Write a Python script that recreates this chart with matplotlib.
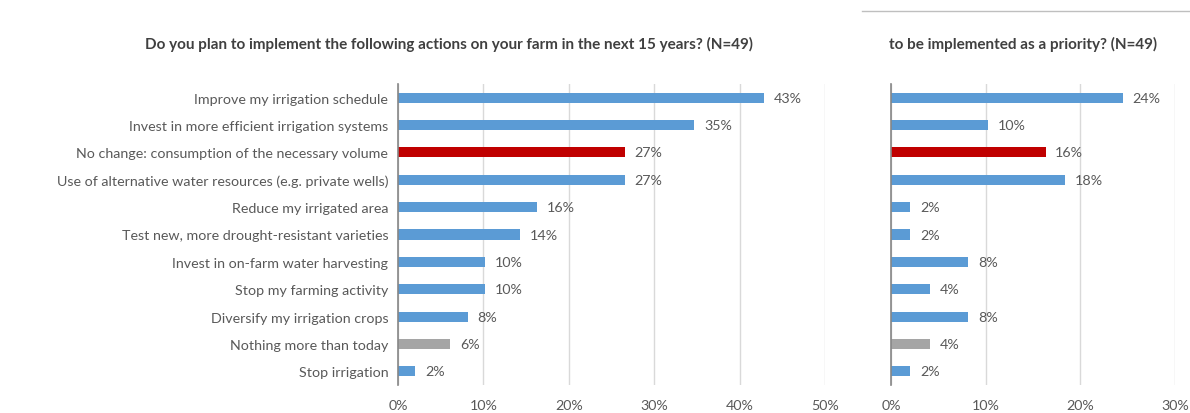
import matplotlib
matplotlib.use("Agg")
import matplotlib.pyplot as plt
from matplotlib.lines import Line2D

# Survey answers (N=49), counts of respondents per action
actions = [
    "Improve my irrigation schedule",
    "Invest in more efficient irrigation systems",
    "No change: consumption of the necessary volume",
    "Use of alternative water resources (e.g. private wells)",
    "Reduce my irrigated area",
    "Test new, more drought-resistant varieties",
    "Invest in on-farm water harvesting",
    "Stop my farming activity",
    "Diversify my irrigation crops",
    "Nothing more than today",
    "Stop irrigation",
]
n_resp = 49
planned = [21, 17, 13, 13, 8, 7, 5, 5, 4, 3, 1]
priority = [12, 5, 8, 9, 1, 1, 4, 2, 4, 2, 1]

left_ticks = [0, 0.1, 0.2, 0.3, 0.4, 0.5]
right_ticks = [0, 0.1, 0.2, 0.3]

BLUE = "#5B9BD5"
RED = "#C00000"
GREY = "#A5A5A5"
TXT = "#595959"
colors = [BLUE, BLUE, RED, BLUE, BLUE, BLUE, BLUE, BLUE, BLUE, GREY, BLUE]

plt.rcParams["font.family"] = ["Lato", "DejaVu Sans"]

W, H = 1190, 414
fig = plt.figure(figsize=(W / 100, H / 100), dpi=100)

def px_axes(x0, x1, y0, y1):
    return fig.add_axes([x0 / W, 1 - y1 / H, (x1 - x0) / W, (y1 - y0) / H])

def draw_panel(ax, counts, xmax, ticks, show_labels):
    vals = [c / n_resp for c in counts]
    ypos = list(range(len(vals)))
    ax.barh(ypos, vals, height=0.37, color=colors, zorder=3)
    for y, v in zip(ypos, vals):
        ax.annotate(f"{v:.0%}", (v, y), xytext=(7, 0), textcoords="offset points",
                    va="center", ha="left", fontsize=10.3, color=TXT)
    ax.set_xlim(0, xmax)
    ax.set_ylim(len(vals) - 0.5, -0.5)
    ax.set_xticks(ticks)
    ax.set_xticklabels([f"{t:.0%}" for t in ticks])
    ax.set_yticks(ypos)
    if show_labels:
        ax.set_yticklabels(actions)
    else:
        ax.set_yticklabels([])
    ax.tick_params(axis="both", length=0, labelsize=10.3, colors=TXT)
    ax.tick_params(axis="x", pad=10)
    ax.tick_params(axis="y", pad=7)
    ax.grid(axis="x", color="#D9D9D9", linewidth=1, zorder=0)
    for side in ["top", "right", "bottom"]:
        ax.spines[side].set_visible(False)
    ax.spines["left"].set_color("#868686")
    ax.spines["left"].set_linewidth(1.2)
    ax.spines["left"].set_zorder(4)

ax1 = px_axes(398, 825, 85, 386)
draw_panel(ax1, planned, 0.5, left_ticks, True)

ax2 = px_axes(891, 1175, 85, 386)
draw_panel(ax2, priority, 0.3, right_ticks, False)

fig.text(449 / W, 1 - 44 / H,
         "Do you plan to implement the following actions on your farm in the next 15 years? (N=49)",
         ha="center", va="center", fontsize=11, fontweight="bold", color="#404040")
fig.text(1023 / W, 1 - 44 / H, "to be implemented as a priority? (N=49)",
         ha="center", va="center", fontsize=11, fontweight="bold", color="#404040")

# thin rule above the right-hand panel
fig.add_artist(Line2D([862 / W, 1.0], [1 - 12 / H, 1 - 12 / H],
                      transform=fig.transFigure, color="#BFBFBF", linewidth=1))

fig.savefig("out.png", dpi=100, facecolor="white")
